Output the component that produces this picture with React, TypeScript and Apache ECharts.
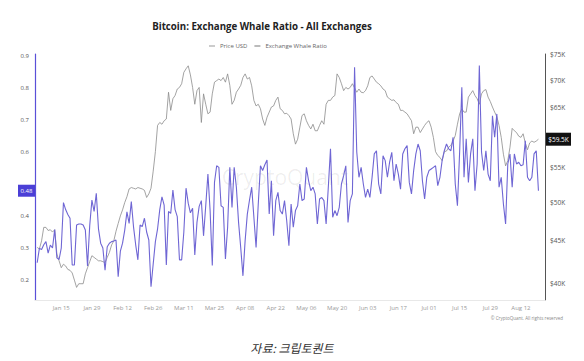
import React, { useEffect, useRef } from 'react';
import * as echarts from 'echarts';

// ---- data ----
const xStart = '2024-01-03';
const xEnd = '2024-08-23';
const dataStart = '2024-01-04';
const tickLabels = ['Jan 15', 'Jan 29', 'Feb 12', 'Feb 26', 'Mar 11', 'Mar 25', 'Apr 08', 'Apr 22', 'May 06', 'May 20', 'Jun 03', 'Jun 17', 'Jul 01', 'Jul 15', 'Jul 29', 'Aug 12'];
const ratioTicks = [0.2, 0.3, 0.4, 0.6, 0.7, 0.8, 0.9];
const priceTicks = [40, 45, 50, 55, 65, 70, 75];

const whaleRatio = [
  0.254, 0.299, 0.295, 0.31, 0.32, 0.284, 0.309, 0.30, 0.358, 0.269,
  0.264, 0.30, 0.442, 0.42, 0.405, 0.393, 0.247, 0.247, 0.372, 0.375,
  0.375, 0.372, 0.356, 0.244, 0.37, 0.45, 0.414, 0.471, 0.36, 0.315,
  0.30, 0.231, 0.304, 0.315, 0.32, 0.322, 0.325, 0.21, 0.29, 0.315,
  0.356, 0.413, 0.377, 0.445, 0.367, 0.31, 0.263, 0.372, 0.367, 0.393,
  0.35, 0.325, 0.179, 0.25, 0.32, 0.36, 0.42, 0.46, 0.434, 0.247,
  0.414, 0.408, 0.481, 0.42, 0.398, 0.263, 0.263, 0.35, 0.487, 0.44,
  0.41, 0.424, 0.278, 0.38, 0.43, 0.448, 0.338, 0.432, 0.531, 0.417,
  0.245, 0.505, 0.557, 0.552, 0.432, 0.427, 0.266, 0.365, 0.552, 0.427,
  0.552, 0.49, 0.38, 0.30, 0.213, 0.323, 0.406, 0.45, 0.49, 0.396,
  0.302, 0.4375, 0.557, 0.542, 0.56, 0.575, 0.406, 0.51, 0.338, 0.448,
  0.474, 0.417, 0.406, 0.448, 0.385, 0.307, 0.4375, 0.365, 0.417, 0.432,
  0.5, 0.448, 0.453, 0.552, 0.51, 0.479, 0.49, 0.469, 0.375, 0.453,
  0.458, 0.448, 0.375, 0.49, 0.61, 0.396, 0.417, 0.401, 0.427, 0.5,
  0.526, 0.557, 0.38, 0.448, 0.469, 0.865, 0.6, 0.521, 0.552, 0.5,
  0.458, 0.484, 0.458, 0.521, 0.594, 0.604, 0.5, 0.469, 0.588, 0.573,
  0.521, 0.568, 0.599, 0.51, 0.5625, 0.531, 0.484, 0.594, 0.61, 0.62,
  0.505, 0.469, 0.542, 0.594, 0.625, 0.604, 0.51, 0.453, 0.521, 0.542,
  0.547, 0.552, 0.557, 0.495, 0.521, 0.573, 0.604, 0.625, 0.61, 0.604,
  0.646, 0.5, 0.432, 0.6, 0.802, 0.521, 0.641, 0.505, 0.594, 0.641,
  0.479, 0.5625, 0.87, 0.6, 0.542, 0.604, 0.531, 0.51, 0.713, 0.646,
  0.719, 0.49, 0.521, 0.4375, 0.375, 0.5625, 0.594, 0.49, 0.594, 0.5625,
  0.568, 0.557, 0.56, 0.635, 0.521, 0.51, 0.521, 0.594, 0.604, 0.479,
];

// BTC price in thousands of USD
const priceUsdK = [
  44.2, 44.0, 45.0, 46.7, 46.7, 46.3, 46.4, 46.1, 46.4, 43.4,
  42.6, 41.8, 42.2, 42.0, 41.6, 41.5, 41.2, 40.4, 39.6, 40.0,
  40.0, 40.0, 41.1, 41.8, 42.5, 43.2, 43.0, 42.8, 42.6, 42.6,
  42.5, 42.4, 43.0, 43.6, 44.5, 45.0, 46.2, 47.2, 48.2, 49.0,
  50.0, 50.8, 51.9, 52.1, 52.0, 51.9, 52.1, 52.0, 51.9, 51.7,
  50.7, 51.2, 52.0, 54.5, 57.5, 61.8, 62.3, 62.0, 62.6, 62.9,
  67.7, 64.4, 66.5, 67.1, 68.3, 68.6, 69.3, 71.5, 72.2, 72.8,
  71.0, 68.6, 65.5, 68.0, 68.6, 62.3, 67.4, 65.5, 63.8, 64.1,
  67.4, 69.6, 69.9, 70.2, 69.9, 70.5, 69.6, 71.2, 69.0, 65.5,
  66.2, 67.7, 68.3, 69.0, 70.5, 71.2, 70.2, 70.5, 68.9, 66.2,
  65.2, 65.5, 64.7, 62.9, 61.8, 63.2, 64.1, 65.0, 65.2, 66.2,
  66.8, 64.7, 64.4, 63.8, 63.9, 63.5, 62.9, 60.4, 58.7, 59.5,
  61.5, 63.5, 63.8, 62.6, 61.8, 61.2, 62.0, 60.9, 60.9, 61.8,
  62.6, 62.0, 65.5, 66.2, 66.2, 66.8, 67.1, 71.2, 70.5, 69.3,
  68.0, 68.6, 68.3, 68.6, 69.3, 68.5, 67.7, 68.3, 67.7, 67.6,
  68.0, 68.9, 70.5, 70.8, 70.2, 69.6, 69.3, 68.9, 68.3, 68.0,
  66.8, 66.5, 66.2, 66.3, 65.8, 65.5, 64.4, 64.4, 64.1, 63.8,
  63.2, 62.6, 60.4, 61.5, 61.5, 60.6, 61.2, 61.8, 62.3, 62.6,
  61.5, 59.8, 57.5, 56.9, 56.6, 56.1, 57.5, 57.6, 58.2, 58.5,
  59.2, 60.1, 62.0, 63.8, 64.7, 64.1, 64.1, 66.8, 67.4, 68.0,
  67.1, 66.5, 65.5, 67.4, 68.0, 68.2, 66.8, 66.0, 65.0, 64.1,
  63.3, 61.8, 59.8, 57.1, 55.3, 56.1, 58.2, 61.3, 60.9, 60.6,
  60.0, 59.8, 60.4, 58.9, 57.8, 58.9, 59.2, 59.0, 59.2, 59.5,
];

const MONTHS = ['Jan', 'Feb', 'Mar', 'Apr', 'May', 'Jun', 'Jul', 'Aug', 'Sep', 'Oct', 'Nov', 'Dec'];
function fmtDay(d: Date) {
  return MONTHS[d.getUTCMonth()] + ' ' + String(d.getUTCDate()).padStart(2, '0');
}
function buildCategories() {
  const out: string[] = [];
  const end = Date.parse(xEnd + 'T00:00:00Z');
  for (let t = Date.parse(xStart + 'T00:00:00Z'); t <= end; t += 86400000) out.push(fmtDay(new Date(t)));
  return out;
}

export default function App() {
  const ref = useRef<HTMLDivElement>(null);
  useEffect(() => {
    if (!ref.current) return;
    const chart = echarts.init(ref.current, undefined, { renderer: 'svg' });
    const categories = buildCategories();
    const offset = Math.round((Date.parse(dataStart) - Date.parse(xStart)) / 86400000);
    const pad: (number | null)[] = new Array(offset).fill(null);
    const whaleData = pad.concat(whaleRatio);
    const priceData = pad.concat(priceUsdK);
    const tickSet = new Set(tickLabels);
    const lastRatio = whaleRatio[whaleRatio.length - 1];
    const lastPrice = priceUsdK[priceUsdK.length - 1];
    const font = 'Open Sans, Noto Sans, sans-serif';

    const baseGraphic: any[] = [
      {
        id: 'title',
        type: 'text',
        x: 262,
        y: 26,
        style: {
          text: 'Bitcoin: Exchange Whale Ratio - All Exchanges',
          align: 'center',
          verticalAlign: 'middle',
          fontSize: 9.7,
          fontWeight: 'bold',
          fontFamily: font,
          fill: '#222',
        },
      },
      {
        id: 'watermark',
        type: 'text',
        x: 285,
        y: 177,
        silent: true,
        z: -1,
        style: {
          text: 'CryptoQuant',
          align: 'center',
          verticalAlign: 'middle',
          fontSize: 21,
          fontFamily: font,
          fill: 'rgba(0,0,0,0.07)',
        },
      },
      {
        id: 'copyright',
        type: 'text',
        x: 563,
        y: 318,
        style: {
          text: '© CryptoQuant. All rights reserved',
          align: 'right',
          verticalAlign: 'middle',
          fontSize: 4.5,
          fontFamily: font,
          fill: '#888',
        },
      },
      {
        id: 'caption',
        type: 'text',
        x: 292,
        y: 347,
        style: {
          text: '자료: 크립토퀀트',
          align: 'center',
          verticalAlign: 'middle',
          fontSize: 12,
          fontStyle: 'italic',
          fontFamily: 'Noto Sans CJK KR, sans-serif',
          fill: '#333',
        },
      },
    ];

    chart.setOption({
      animation: false,
      backgroundColor: '#ffffff',
      textStyle: { fontFamily: font },
      grid: { left: 35, right: 39, top: 54, bottom: 61, containLabel: false },
      legend: {
        left: 204,
        top: 38,
        icon: 'rect',
        itemWidth: 6,
        itemHeight: 1,
        itemGap: 7,
        textStyle: { fontSize: 6, color: '#666', fontFamily: font },
        data: [
          { name: 'Price USD', itemStyle: { color: '#999' } },
          { name: 'Exchange Whale Ratio', itemStyle: { color: '#777' } },
        ],
      },
      xAxis: {
        type: 'category',
        data: categories,
        boundaryGap: false,
        axisLine: { show: true, lineStyle: { color: '#e8e8e8', width: 1 } },
        axisTick: { show: false },
        splitLine: { show: false },
        axisLabel: {
          interval: (_i: number, v: string) => tickSet.has(v),
          fontSize: 6,
          color: '#9a9a9a',
          margin: 5,
          fontFamily: font,
        },
      },
      yAxis: [
        {
          type: 'value',
          position: 'left',
          min: 0.1375,
          max: 0.90625,
          splitLine: { show: false },
          axisTick: { show: false },
          axisLine: { show: true, lineStyle: { color: '#5a50d8', width: 1.2 } },
          axisLabel: {
            customValues: ratioTicks,
            formatter: (v: number) => v.toFixed(1),
            fontSize: 6,
            color: '#555',
            margin: 6,
            fontFamily: font,
          },
        },
        {
          type: 'log',
          logBase: 10,
          position: 'right',
          min: 38.25,
          max: 75.2,
          splitLine: { show: false },
          axisTick: { show: false },
          axisLine: { show: true, lineStyle: { color: '#555', width: 1 } },
          axisLabel: {
            customValues: priceTicks,
            formatter: (v: number) => '$' + Math.round(v) + 'K',
            fontSize: 6.5,
            color: '#555',
            margin: 5,
            fontFamily: font,
          },
        },
      ],
      series: [
        {
          name: 'Price USD',
          type: 'line',
          yAxisIndex: 1,
          data: priceData,
          showSymbol: false,
          symbol: 'none',
          lineStyle: { color: '#8c8c8c', width: 0.8 },
          itemStyle: { color: '#8c8c8c' },
          z: 2,
        },
        {
          name: 'Exchange Whale Ratio',
          type: 'line',
          yAxisIndex: 0,
          data: whaleData,
          showSymbol: false,
          symbol: 'none',
          lineStyle: { color: '#6f66d4', width: 1.1 },
          itemStyle: { color: '#6f66d4' },
          z: 3,
        },
      ],
      graphic: baseGraphic,
    });

    // current-value tags on both axes, placed through the axes' own scales
    const yR = chart.convertToPixel({ yAxisIndex: 0 }, lastRatio) as number;
    const yP = chart.convertToPixel({ yAxisIndex: 1 }, lastPrice) as number;
    const gridLeft = 35;
    const gridRight = 584 - 39;
    chart.setOption({
      graphic: baseGraphic.concat([
        {
          id: 'ratioTagBox',
          type: 'rect',
          z: 10,
          shape: { x: gridLeft - 17, y: yR - 6, width: 17, height: 12 },
          style: { fill: '#4b3fd6' },
        },
        {
          id: 'ratioTagText',
          type: 'text',
          z: 11,
          x: gridLeft - 8.5,
          y: yR,
          style: {
            text: lastRatio.toFixed(2),
            align: 'center',
            verticalAlign: 'middle',
            fontSize: 6,
            fontFamily: font,
            fill: '#fff',
          },
        },
        {
          id: 'priceTagBox',
          type: 'rect',
          z: 10,
          shape: { x: gridRight + 1, y: yP - 6.5, width: 25, height: 13 },
          style: { fill: '#111' },
        },
        {
          id: 'priceTagText',
          type: 'text',
          z: 11,
          x: gridRight + 13.5,
          y: yP,
          style: {
            text: '$' + lastPrice.toFixed(1) + 'K',
            align: 'center',
            verticalAlign: 'middle',
            fontSize: 6.5,
            fontFamily: font,
            fill: '#fff',
          },
        },
      ]),
    });
    return () => chart.dispose();
  }, []);
  return (
    <div
      ref={ref}
      style={{ position: 'fixed', left: 0, top: 0, width: 584, height: 361, background: '#fff' }}
    />
  );
}
